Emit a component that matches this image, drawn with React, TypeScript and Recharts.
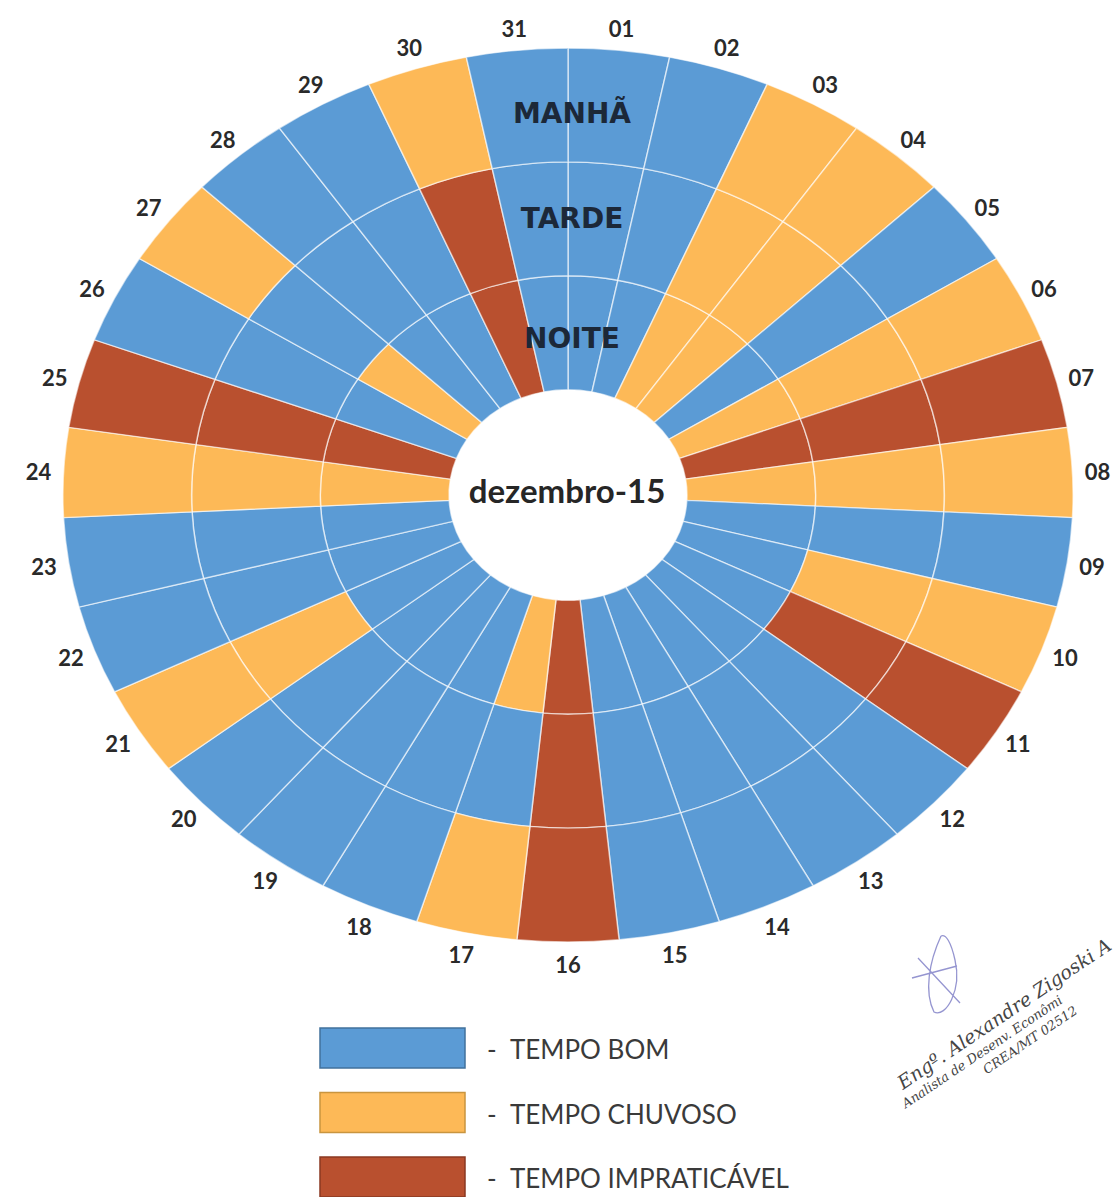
import { PieChart, Pie, Cell } from 'recharts';

// Dezembro/2015 - condição do tempo por período (B = bom, C = chuvoso, I = impraticável)
const DAYS = [
  '01', '02', '03', '04', '05', '06', '07', '08', '09', '10', '11', '12', '13', '14', '15', '16',
  '17', '18', '19', '20', '21', '22', '23', '24', '25', '26', '27', '28', '29', '30', '31',
];
const MANHA = ['B', 'B', 'C', 'C', 'B', 'C', 'I', 'C', 'B', 'C', 'I', 'B', 'B', 'B', 'B', 'I', 'C', 'B', 'B', 'B', 'C', 'B', 'B', 'C', 'I', 'B', 'C', 'B', 'B', 'C', 'B'];
const TARDE = ['B', 'B', 'C', 'C', 'B', 'C', 'I', 'C', 'B', 'C', 'I', 'B', 'B', 'B', 'B', 'I', 'B', 'B', 'B', 'B', 'C', 'B', 'B', 'C', 'I', 'B', 'B', 'B', 'B', 'I', 'B'];
const NOITE = ['B', 'B', 'C', 'C', 'B', 'C', 'I', 'C', 'B', 'B', 'B', 'B', 'B', 'B', 'B', 'I', 'C', 'B', 'B', 'B', 'B', 'B', 'B', 'C', 'I', 'B', 'C', 'B', 'B', 'I', 'B'];

const RING_NAMES = ['MANHÃ', 'TARDE', 'NOITE'];
const STATUS_KEYS = ['B', 'C', 'I'];
const LEGEND_LABELS = ['TEMPO BOM', 'TEMPO CHUVOSO', 'TEMPO IMPRATICÁVEL'];
const MONTH_LABEL = 'dezembro-15';

const COLORS: Record<string, string> = { B: '#5B9BD5', C: '#FDB957', I: '#B9502F' };
const BORDERS: Record<string, string> = { B: '#41719C', C: '#C9953F', I: '#8A3822' };

const CX = 568;
const CY = 495;
const PAD = 100; // extra room above the pie so the top day labels are not clipped
const K = 0.885; // the original is drawn as an ellipse
const HOLE = 119;
const RING = 128.7;
const RAD = Math.PI / 180;

const toData = (statuses: string[]) => DAYS.map((day, i) => ({ day, value: 1, status: statuses[i] }));
const manha = toData(MANHA);
const tarde = toData(TARDE);
const noite = toData(NOITE);

const renderDayLabel = (props: any) => {
  const { cx, cy, midAngle, outerRadius, index } = props;
  const r = outerRadius + 25;
  const x = cx + r * Math.cos(-midAngle * RAD);
  const y = cy + r * Math.sin(-midAngle * RAD);
  return (
    <text
      x={0}
      y={0}
      transform={`translate(${x} ${y}) scale(1 ${1 / K})`}
      textAnchor="middle"
      dominantBaseline="central"
      fontFamily="Lato, sans-serif"
      fontWeight={700}
      fontSize={22}
      fill="#2a2a2a"
    >
      {DAYS[index]}
    </text>
  );
};

const ring = (data: any[], inner: number, outer: number, withLabels = false) => (
  <Pie
    data={data}
    dataKey="value"
    nameKey="day"
    cx={CX}
    cy={CY + PAD}
    innerRadius={inner}
    outerRadius={outer}
    startAngle={90}
    endAngle={-270}
    stroke="rgba(255,255,255,0.6)"
    strokeWidth={1.5}
    label={withLabels ? renderDayLabel : false}
    labelLine={false}
    isAnimationActive={false}
  >
    {data.map((d) => (
      <Cell key={d.day} fill={COLORS[d.status]} />
    ))}
  </Pie>
);

export default function App() {
  const ringY = [113, 218, 338];
  return (
    <div style={{ position: 'absolute', left: 0, top: 0, width: 1120, height: 1197, background: '#fff', overflow: 'hidden' }}>
      <div
        style={{
          position: 'absolute',
          left: 0,
          top: -PAD,
          width: 1120,
          height: 1120 + 2 * PAD,
          transform: `scaleY(${K})`,
          transformOrigin: `${CX}px ${CY + PAD}px`,
        }}
      >
        <PieChart width={1120} height={1120 + 2 * PAD} margin={{ top: 0, right: 0, bottom: 0, left: 0 }}>
          {ring(noite, HOLE, HOLE + RING)}
          {ring(tarde, HOLE + RING, HOLE + 2 * RING)}
          {ring(manha, HOLE + 2 * RING, HOLE + 3 * RING, true)}
        </PieChart>
      </div>

      <svg width={1120} height={1197} style={{ position: 'absolute', left: 0, top: 0, pointerEvents: 'none' }}>
        {RING_NAMES.map((name, i) => (
          <text
            key={name}
            x={572}
            y={ringY[i]}
            textAnchor="middle"
            dominantBaseline="central"
            fontFamily="'DejaVu Sans', sans-serif"
            fontWeight={700}
            fontSize={28}
            fill="#1c2838"
          >
            {name}
          </text>
        ))}
        <text
          x={CX - 1}
          y={490}
          textAnchor="middle"
          dominantBaseline="central"
          fontFamily="Lato, sans-serif"
          fontWeight={700}
          fontSize={33}
          fill="#262626"
        >
          {MONTH_LABEL}
        </text>

        {/* legenda */}
        {STATUS_KEYS.map((k, i) => (
          <g key={k}>
            <rect x={320} y={1028 + i * 64.5} width={145} height={40} fill={COLORS[k]} stroke={BORDERS[k]} strokeWidth={1.5} />
            <text x={487} y={1049 + i * 64.5} dominantBaseline="central" fontFamily="Lato, sans-serif" fontSize={26} fill="#3a3a3a">
              -
            </text>
            <text x={510} y={1049 + i * 64.5} dominantBaseline="central" fontFamily="Lato, sans-serif" fontSize={26} fill="#3a3a3a">
              {LEGEND_LABELS[i]}
            </text>
          </g>
        ))}

        {/* assinatura */}
        <path
          d="M 918 958 L 960 1003 M 941 936 C 929 962 924 992 934 1012 C 946 1018 962 990 955 960 C 951 942 946 934 941 936 M 912 978 L 957 966"
          fill="none"
          stroke="#8282c8"
          strokeWidth={1.3}
          opacity={0.85}
        />
        <g transform="translate(903 1090) rotate(-34)" fontFamily="'DejaVu Serif', serif" fontStyle="italic" fill="#454545">
          <text x={0} y={0} fontSize={19}>Engº. Alexandre Zigoski A</text>
          <text x={-8} y={17} fontSize={13}>Analista de Desenv. Econômi</text>
          <text x={78} y={34} fontSize={13}>CREA/MT 02512</text>
        </g>
      </svg>
    </div>
  );
}
